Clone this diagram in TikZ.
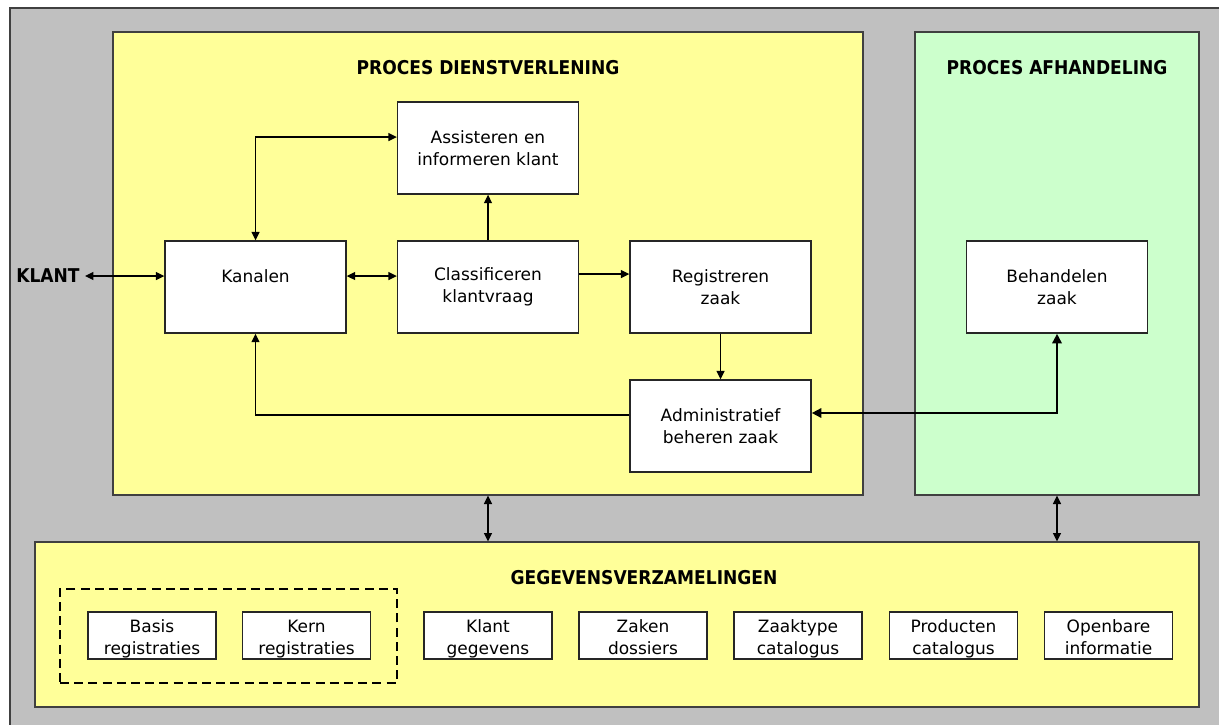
\documentclass[tikz,border=0pt]{standalone}
\usepackage{fontspec}
\setmainfont{DejaVu Sans}
\newfontfamily\titelfont{DejaVu Sans Condensed Bold}
\usetikzlibrary{arrows.meta}
\definecolor{achtergrond}{HTML}{C0C0C0}
\definecolor{rand}{HTML}{404040}
\definecolor{geel}{HTML}{FFFF99}
\definecolor{groen}{HTML}{CCFFCC}
\newcommand{\bovenruimte}{\rule{0pt}{10pt}}
\newcommand{\onderruimte}{\rule[-2.5pt]{0pt}{2.5pt}}
\tikzset{
  vlak/.style={draw=rand, line width=0.6pt, inner sep=0pt},
  titel/.style={font=\titelfont\fontsize{9.5}{11}\selectfont, inner sep=0pt},
  procesbox/.style={draw=black!85, fill=white, line width=0.7pt, align=center,
    minimum width=90.5pt, minimum height=46pt, inner sep=0pt},
  gegevensbox/.style={draw=black!85, fill=white, line width=0.6pt, align=center,
    minimum width=64pt, minimum height=23.5pt, inner sep=0pt},
  pijl/.style={line width=0.6pt, {Triangle[length=4.2pt,width=4pt]}-{Triangle[length=4.2pt,width=4pt]}},
  enkel/.style={line width=0.6pt, -{Triangle[length=4.2pt,width=4pt]}},
  dik/.style={line width=1.4pt, {Triangle[length=4.8pt,width=4.6pt]}-{Triangle[length=4.8pt,width=4.6pt]}}
}
\begin{document}
\begin{tikzpicture}[x=0.5pt,y=-0.5pt,font=\fontsize{8.5}{11}\selectfont]
\useasboundingbox (0,0) rectangle (1219,724);
\begin{scope}
\clip (0,0) rectangle (1219,724);
\fill [white] (0,0) rectangle (1219,724);
\draw [fill=achtergrond, draw=rand, line width=1pt] (10,8) rectangle (1240,760);
\end{scope}
% vlakken
\node [vlak, fill=geel, minimum width=375pt, minimum height=231.5pt] (dienstverlening) at (488,263.5) {};
\node [vlak, fill=groen, minimum width=142pt, minimum height=231.5pt] (afhandeling) at (1057,263.5) {};
\node [vlak, fill=geel, minimum width=582pt, minimum height=82.5pt] (gegevens) at (617,624.5) {};
\node [titel] (titeldienst) at (488,68) {PROCES DIENSTVERLENING};
\node [titel] (titelafh) at (1057,68) {PROCES AFHANDELING};
\node [titel] (titelgeg) at (644,578) {GEGEVENSVERZAMELINGEN};
% proces dienstverlening
\node [titel, anchor=east, inner sep=2.5pt] (klant) at (85,276) {KLANT};
\node [procesbox] (assisteren) at (488,148) {Assisteren en\\informeren klant};
\node [procesbox] (kanalen) at (255.5,287) {Kanalen\\~};
\node [procesbox] (classificeren) at (488,287) {Classificeren\\klantvraag};
\node [procesbox] (registreren) at (720.5,287) {Registreren\\zaak};
\node [procesbox] (administratief) at (720.5,426) {Administratief\\beheren zaak};
\node [procesbox] (behandelen) at (1057,287) {Behandelen\\zaak};
% gegevensverzamelingen
\node [draw, dashed, line width=1.2pt, dash pattern=on 4.5pt off 2.6pt, minimum width=168.5pt, minimum height=47pt] (registraties) at (228.5,636) {};
\node [gegevensbox] (basis) at (152,635.5) {\bovenruimte Basis\\registraties\onderruimte};
\node [gegevensbox] (kern) at (306.5,635.5) {\bovenruimte Kern\\registraties\onderruimte};
\node [gegevensbox] (klantgeg) at (488,635.5) {\bovenruimte Klant\\gegevens\onderruimte};
\node [gegevensbox] (zaken) at (643,635.5) {\bovenruimte Zaken\\dossiers\onderruimte};
\node [gegevensbox] (zaaktype) at (798,635.5) {\bovenruimte Zaaktype\\catalogus\onderruimte};
\node [gegevensbox] (producten) at (953.5,635.5) {\bovenruimte Producten\\catalogus\onderruimte};
\node [gegevensbox] (openbare) at (1108.5,635.5) {\bovenruimte Openbare\\informatie\onderruimte};
% verbindingen
\draw [pijl] (klant.east) -- (klant.east -| kanalen.west);
\draw [pijl] ([yshift=5.5pt]kanalen.east) -- ([yshift=5.5pt]classificeren.west);
\draw [enkel] ([yshift=6.5pt]classificeren.east) -- ([yshift=6.5pt]registreren.west);
\draw [enkel] (classificeren.north) -- (assisteren.south);
\draw [pijl] (kanalen.north) |- ([yshift=5.5pt]assisteren.west);
\draw [enkel] (registreren.south) -- (administratief.north);
\draw [enkel] ([yshift=5.5pt]administratief.west) -| (kanalen.south);
\draw [dik] (behandelen.south) |- ([yshift=6.5pt]administratief.east);
\draw [pijl] (dienstverlening.south) -- (dienstverlening.south |- gegevens.north);
\draw [pijl] (afhandeling.south) -- (afhandeling.south |- gegevens.north);
\end{tikzpicture}
\end{document}
